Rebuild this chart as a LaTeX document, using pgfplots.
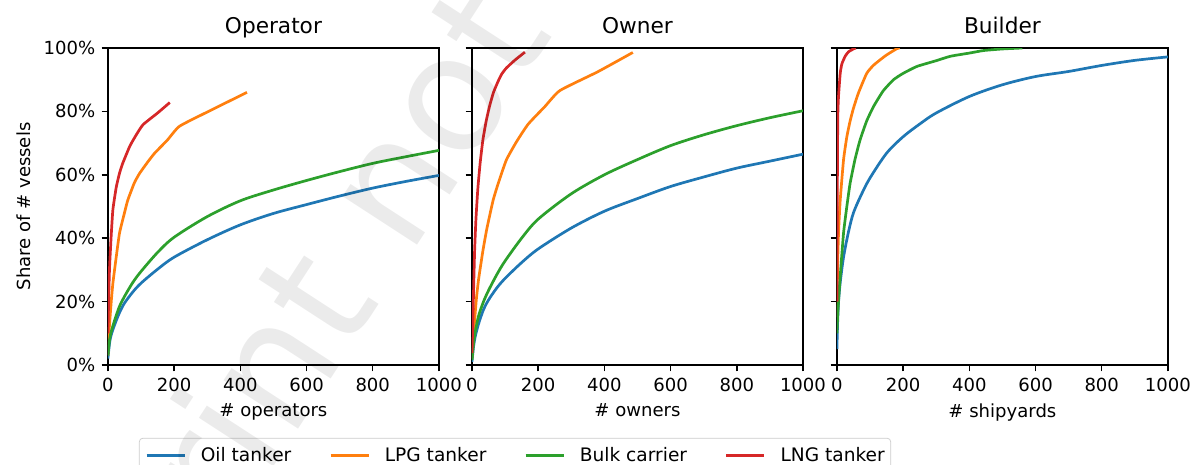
\documentclass[border=0pt]{standalone}
\usepackage{pgfplots}
\pgfplotsset{compat=1.18}
\usepackage{fontspec}
\setmainfont{DejaVu Sans}
\definecolor{tabblue}{HTML}{1F77B4}
\definecolor{taborange}{HTML}{FF7F0E}
\definecolor{tabgreen}{HTML}{2CA02C}
\definecolor{tabred}{HTML}{D62728}
\pgfplotsset{
  panel/.style={
    scale only axis, width=183.4pt, height=175.6pt,
    xmin=0, xmax=1000, ymin=0, ymax=100,
    xtick={0,200,400,600,800,1000},
    xticklabels={0,200,400,600,800,1000},
    ytick={0,20,40,60,80,100},
    tick pos=left, tick align=outside, major tick length=3.5pt,
    axis line style={line width=0.8pt}, every tick/.style={black, line width=0.8pt},
    title style={font=\fontsize{12}{14}\selectfont, at={(0.5,1)}, anchor=base, yshift=2pt},
    label style={font=\fontsize{10}{12}\selectfont},
    every axis plot/.append style={line width=1.5pt, no marks, line join=round},
    clip=true,
  },
  sm/.style={smooth, tension=0.5},
  sk/.style={smooth, tension=0.3},
}
\begin{document}
\begin{tikzpicture}
\path[use as bounding box, clip] (0,0) rectangle (661pt,257.6pt);
\begin{axis}[panel, at={(59.8pt,55.4pt)}, anchor=south west,
  title={Operator}, xlabel={\# operators}, ylabel={Share of \# vessels},
  yticklabels={0\%,20\%,40\%,60\%,80\%,100\%},
  legend columns=4,
  legend style={at={(0.0937,-0.23)}, anchor=north west, draw=black!20, rounded corners=2pt,
    fill=white, font=\fontsize{10.3}{12}\selectfont, inner xsep=3.3pt, inner ysep=3pt,
    nodes={inner xsep=0pt, inner ysep=2pt},
    /tikz/every odd column/.append style={column sep=8.3pt},
    /tikz/every even column/.append style={column sep=21pt}},
  legend image code/.code={\draw[#1] (0pt,0pt) -- (21pt,0pt);},
]
\addplot[tabblue, sm] coordinates {(0,2) (5,7) (10,9.5) (20,12.6) (35,16.5) (50,19.5) (75,23) (100,25.8) (150,30.2) (200,34) (300,39.5) (400,44.2) (500,47.8) (600,50.6) (700,53.3) (800,55.8) (900,57.9) (1000,59.8)};
\addlegendentry{Oil tanker}
\addplot[taborange, sk] coordinates {(0,3) (2,8) (5,13) (10,20) (15,25.8) (25,34) (35,41.6) (50,48) (60,52) (80,57.5) (96,60.5) (120,64) (141,66.8) (180,71) (216,75.3) (300,79.8) (420,86)};
\addlegendentry{LPG tanker}
\addplot[tabgreen, sm] coordinates {(0,3) (5,8) (10,10.5) (20,14) (35,18.5) (50,21.6) (75,26) (100,29.5) (150,35.5) (200,40.3) (300,46.8) (400,51.8) (500,55.2) (600,58.2) (700,61) (800,63.6) (900,65.7) (1000,67.7)};
\addlegendentry{Bulk carrier}
\addplot[tabred, sk] coordinates {(0,10) (2,20) (5,31) (10,41) (15,49) (25,56) (35,60.5) (45,63.7) (66,69) (85,72.5) (106,75.8) (150,79.5) (187,82.8)};
\addlegendentry{LNG tanker}
\end{axis}
\begin{axis}[panel, at={(261.5pt,55.4pt)}, anchor=south west,
  title={Owner}, xlabel={\# owners}, yticklabels={}]
\addplot[tabblue, sm] coordinates {(0,1) (5,6) (10,9) (20,13) (35,17.5) (50,20.5) (75,24.3) (100,27.3) (150,32.3) (200,36.6) (300,43.2) (400,48.5) (500,52.5) (600,56.3) (700,59.3) (800,62.1) (900,64.3) (1000,66.5)};
\addplot[taborange, sk] coordinates {(0,2) (5,10) (13,20.5) (20,27) (33,36) (45,43) (64,52) (80,57.5) (104,64.7) (135,70.5) (170,76) (220,81.5) (266,86.6) (380,92.5) (486,98.6)};
\addplot[tabgreen, sm] coordinates {(0,1.5) (5,7) (10,10.5) (20,15.5) (35,20) (50,23.5) (75,28.5) (100,32.8) (150,40) (200,46) (300,54) (400,60) (500,64.8) (600,69.2) (700,72.6) (800,75.5) (900,78) (1000,80.2)};
\addplot[tabred, sk] coordinates {(0,3.7) (3,15) (5,24) (8,36) (12,46) (18,56) (25,64) (33,71) (43,77) (53,81.6) (65,86) (79,89.5) (90,91.8) (104,93.7) (130,96.2) (160,98.7)};
\end{axis}
\begin{axis}[panel, at={(463.7pt,55.4pt)}, anchor=south west,
  title={Builder}, xlabel={\# shipyards}, yticklabels={}]
\addplot[tabblue, sm] coordinates {(0,5) (2,13) (5,20) (10,26) (20,34) (35,42) (50,48) (75,54) (100,59) (150,66.8) (200,72) (250,76) (300,79.5) (400,84.7) (500,88.4) (600,91) (700,92.6) (800,94.5) (900,96.1) (1000,97.2)};
\addplot[taborange, sk] coordinates {(0,15) (2,31) (5,42) (10,52) (20,64.7) (30,72) (40,77) (50,81) (65,85.8) (90,92) (110,94.5) (131,96.3) (150,97.8) (181,99.8) (190,100)};
\addplot[tabgreen, sk] coordinates {(0,10) (2,15) (5,20.5) (10,28) (20,41.6) (30,50) (40,57.4) (55,65) (70,71) (90,77) (111,81.6) (140,86.5) (171,90) (200,92) (242,94.2) (300,96) (343,97.4) (400,98.4) (443,99.2) (500,99.7) (560,100)};
\addplot[tabred, sk] coordinates {(0,20) (1,50) (2,70) (3,80) (5,85) (10,92) (15,95) (25,97.4) (35,98.8) (50,99.7) (57,100)};
\end{axis}
\node[rotate=57, anchor=base east, inner sep=0pt, text=black, text opacity=0.08, font=\fontsize{90}{90}\selectfont] at (226.9pt,114.7pt) {Preprint\kern0.318em};
\node[rotate=57, anchor=base west, inner sep=0pt, text=black, text opacity=0.08, font=\fontsize{90}{90}\selectfont] at (226.9pt,114.7pt) {not peer reviewed};
\end{tikzpicture}
\end{document}
